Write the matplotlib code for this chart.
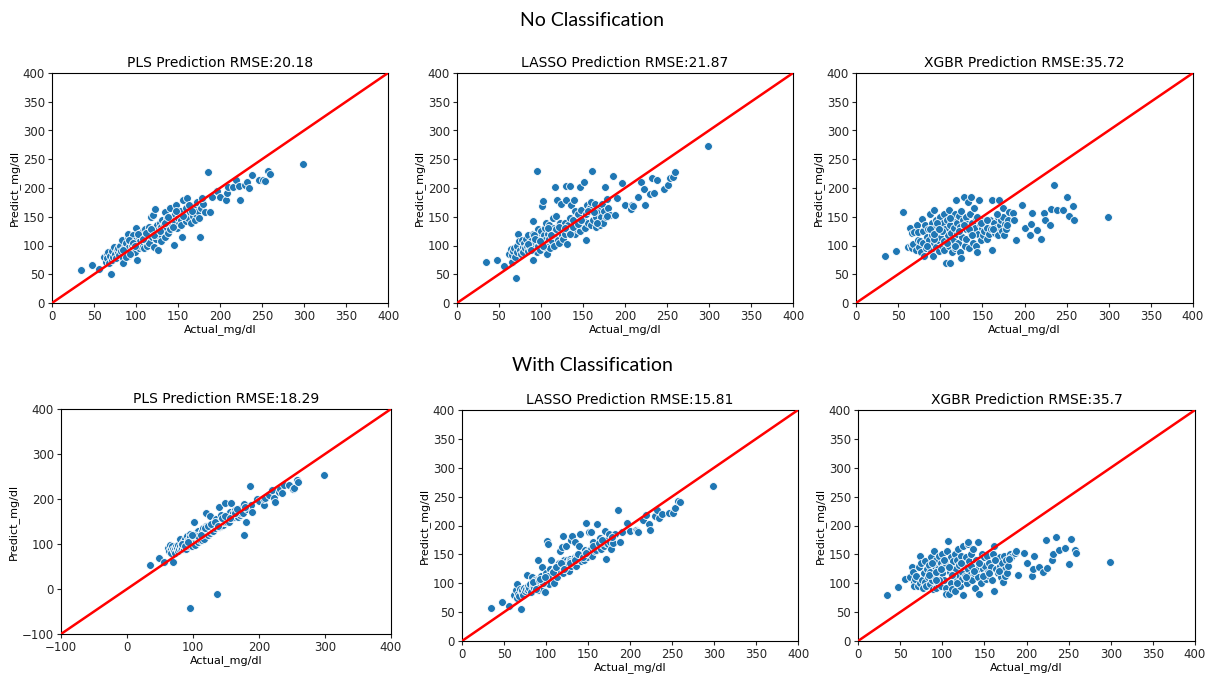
import numpy as np
import matplotlib.pyplot as plt

# actual glucose values of the test set (shared by every model)
actual = [35, 48, 56, 70, 62, 64, 65, 66, 67, 68,
          69, 71, 72, 73, 74, 75, 76, 77, 78, 79,
          80, 81, 82, 83, 84, 85, 86, 87, 88, 89,
          90, 90, 91, 92, 93, 94, 95, 95, 96, 97,
          98, 99, 100, 100, 101, 102, 103, 104, 105, 105,
          106, 107, 108, 109, 110, 110, 111, 112, 113, 114,
          115, 115, 116, 117, 118, 119, 120, 120, 121, 122,
          123, 124, 125, 125, 126, 127, 128, 129, 130, 130,
          131, 132, 133, 134, 135, 136, 137, 138, 139, 140,
          141, 142, 143, 144, 145, 146, 147, 148, 149, 150,
          151, 152, 153, 154, 155, 156, 158, 159, 160, 161,
          162, 164, 165, 166, 168, 169, 170, 171, 172, 173,
          174, 175, 176, 177, 178, 180, 182, 186, 188, 190,
          197, 200, 207, 208, 209, 215, 219, 223, 224, 230,
          232, 235, 238, 246, 251, 253, 257, 259, 299,
          84, 88, 92, 96, 102, 108, 112, 118, 122, 128,
          134, 138, 144, 148, 156, 163, 167, 179, 93, 99]

# no classification
pls_pred = [57, 66, 59, 50, 80, 72, 85, 78, 88, 70,
            82, 75, 90, 80, 97, 85, 78, 92, 88, 95,
            84, 100, 90, 110, 78, 70, 96, 88, 105, 92,
            115, 82, 120, 98, 108, 90, 112, 100, 95, 118,
            105, 88, 130, 110, 75, 100, 115, 95, 122, 108,
            118, 98, 125, 104, 112, 95, 128, 108, 100, 118,
            132, 110, 104, 125, 150, 115, 153, 122, 98, 130,
            163, 112, 135, 118, 92, 128, 140, 120, 108, 132,
            145, 125, 138, 115, 158, 130, 148, 122, 140, 165,
            128, 150, 135, 145, 101, 140, 155, 170, 130, 148,
            138, 160, 145, 135, 115, 180, 150, 142, 165, 183,
            148, 158, 140, 168, 152, 162, 145, 170, 155, 175,
            160, 148, 114, 165, 178, 172, 158, 228, 159, 185,
            194, 185, 179, 192, 201, 201, 214, 203, 179, 206,
            211, 200, 222, 214, 214, 213, 230, 224, 241,
            92, 80, 110, 105, 120, 112, 122, 128, 118, 125,
            140, 150, 132, 160, 152, 170, 160, 182, 86, 100]

lasso_pred = [72, 74, 65, 44, 85, 94, 72, 83, 90, 96,
              80, 88, 100, 120, 107, 92, 85, 110, 98, 88,
              105, 95, 112, 100, 90, 118, 102, 95, 108, 100,
              142, 75, 120, 105, 95, 112, 230, 88, 128, 100,
              115, 92, 125, 105, 168, 177, 98, 118, 110, 130,
              140, 85, 120, 100, 135, 112, 95, 125, 108, 148,
              118, 130, 100, 201, 152, 179, 125, 110, 138, 105,
              140, 173, 118, 132, 112, 125, 140, 120, 203, 179,
              102, 135, 125, 148, 203, 171, 130, 145, 179, 120,
              160, 135, 128, 155, 140, 201, 125, 162, 135, 145,
              210, 130, 155, 110, 171, 140, 165, 135, 175, 230,
              145, 173, 132, 150, 140, 160, 135, 168, 150, 172,
              140, 160, 201, 150, 181, 165, 153, 221, 153, 182,
              209, 171, 163, 171, 168, 184, 211, 198, 171, 190,
              217, 191, 214, 198, 206, 217, 220, 228, 273,
              102, 92, 118, 110, 100, 130, 118, 128, 132, 130,
              120, 132, 138, 145, 160, 158, 140, 152, 112, 108]

xgbr_pred = [81, 91, 159, 100, 97, 130, 100, 122, 95, 103,
             123, 92, 135, 110, 123, 98, 108, 88, 146, 125,
             105, 81, 135, 95, 115, 100, 128, 110, 155, 92,
             140, 118, 81, 162, 105, 130, 145, 98, 120, 110,
             135, 90, 150, 115, 125, 100, 140, 108, 155, 92,
             128, 70, 145, 118, 162, 100, 70, 135, 122, 88,
             148, 110, 130, 95, 155, 179, 120, 140, 105, 152,
             88, 132, 78, 160, 115, 145, 184, 100, 128, 150,
             112, 138, 175, 95, 155, 184, 120, 140, 105, 165,
             130, 148, 100, 88, 120, 179, 138, 110, 130, 142,
             118, 125, 138, 145, 112, 130, 120, 145, 128, 180,
             93, 140, 122, 130, 118, 150, 180, 135, 145, 125,
             165, 150, 118, 138, 128, 145, 159, 156, 145, 110,
             171, 130, 119, 137, 156, 127, 112, 156, 145, 136,
             163, 206, 162, 162, 185, 152, 169, 145, 149,
             100, 128, 112, 140, 125, 105, 148, 100, 125, 135,
             128, 118, 150, 140, 145, 128, 155, 135, 120, 128]

# with classification
pls_pred_c = [54, 70, 61, 61, 92, 85, 98, 88, 80, 95,
              88, 85, 92, 80, 96, 88, 92, 85, 98, 90,
              95, 112, 88, 100, 92, 105, 95, 90, 112, 98,
              102, 90, 118, 100, 95, 108, 122, -42, 100, 110,
              105, 95, 115, 108, 150, 112, 98, 118, 110, 125,
              115, 105, 128, 112, 120, 108, 118, 125, 110, 130,
              118, 135, 122, 112, 128, 140, 170, 125, 132, 120,
              138, 128, 162, 132, 125, 140, 135, 130, 145, 138,
              128, 150, 140, 135, 155, -11, 142, 150, 138, 183,
              145, 140, 165, 150, 142, 155, 148, 192, 150, 160,
              148, 165, 155, 150, 160, 172, 192, 158, 165, 170,
              160, 175, 165, 170, 160, 175, 178, 165, 170, 180,
              175, 168, 185, 121, 190, 150, 178, 230, 186, 172,
              200, 195, 187, 199, 202, 210, 221, 202, 193, 215,
              222, 213, 232, 232, 223, 225, 243, 238, 253,
              100, 95, 108, 115, 120, 118, 120, 135, 140, 145,
              148, 140, 158, 162, 158, 168, 178, 182, 105, 120]

lasso_pred_c = [58, 67, 60, 55, 80, 88, 75, 98, 82, 78,
                90, 85, 88, 80, 92, 86, 90, 115, 88, 95,
                92, 98, 85, 110, 95, 100, 92, 105, 98, 95,
                108, 88, 140, 100, 95, 112, 128, 102, 108, 88,
                100, 85, 118, 105, 173, 168, 110, 98, 125, 112,
                140, 118, 108, 122, 115, 100, 125, 118, 110, 130,
                122, 135, 125, 155, 130, 162, 182, 118, 140, 128,
                132, 165, 125, 140, 135, 122, 142, 138, 175, 130,
                182, 140, 135, 172, 145, 130, 148, 140, 165, 185,
                150, 138, 145, 152, 140, 158, 150, 205, 145, 155,
                188, 150, 188, 160, 148, 172, 155, 162, 158, 203,
                165, 178, 160, 168, 175, 165, 191, 142, 170, 175,
                168, 185, 172, 160, 178, 170, 185, 227, 172, 188,
                204, 190, 192, 190, 189, 210, 219, 202, 193, 217,
                227, 213, 220, 222, 221, 231, 243, 241, 269,
                102, 90, 105, 100, 112, 120, 128, 135, 125, 135,
                140, 150, 145, 152, 165, 170, 175, 180, 108, 110]

xgbr_pred_c = [80, 94, 107, 100, 110, 129, 120, 102, 95, 108,
               113, 95, 128, 100, 148, 135, 105, 92, 118, 138,
               103, 95, 125, 110, 132, 98, 120, 145, 105, 90,
               155, 112, 130, 92, 140, 118, 100, 125, 148, 108,
               135, 95, 150, 118, 128, 105, 140, 92, 81, 132,
               155, 173, 81, 120, 145, 100, 128, 90, 138, 112,
               150, 87, 125, 105, 140, 160, 115, 132, 95, 148,
               120, 108, 80, 165, 130, 112, 145, 100, 168, 125,
               171, 138, 115, 150, 105, 128, 160, 118, 92, 140,
               125, 110, 171, 82, 135, 100, 150, 125, 115, 145,
               130, 108, 148, 120, 112, 135, 128, 105, 150, 165,
               87, 125, 140, 118, 130, 145, 110, 135, 102, 148,
               125, 112, 140, 118, 130, 150, 145, 152, 155, 115,
               152, 135, 112, 125, 148, 128, 119, 175, 126, 141,
               150, 180, 157, 161, 133, 177, 157, 152, 137,
               115, 135, 120, 105, 140, 128, 115, 100, 135, 110,
               130, 122, 135, 112, 118, 140, 122, 142, 105, 125]

titles = ['PLS Prediction RMSE:20.18', 'LASSO Prediction RMSE:21.87', 'XGBR Prediction RMSE:35.72',
          'PLS Prediction RMSE:18.29', 'LASSO Prediction RMSE:15.81', 'XGBR Prediction RMSE:35.7']
preds = [pls_pred, lasso_pred, xgbr_pred, pls_pred_c, lasso_pred_c, xgbr_pred_c]
lows = [0, 0, 0, -100, 0, 0]

# panel boxes in pixels: left, top, right, bottom
boxes = [(52, 73, 388, 303), (457, 73, 793, 303), (856, 73, 1193, 303),
         (61, 409, 391, 634), (462, 410, 798, 641), (858, 410, 1195, 641)]

W, H = 1212, 677
fig = plt.figure(figsize=(W / 100, H / 100), dpi=100)

for title, pred, low, (l, t, r, b) in zip(titles, preds, lows, boxes):
    ax = fig.add_axes([l / W, (H - b) / H, (r - l) / W, (b - t) / H])
    ax.scatter(actual, pred, s=32, color='#1f77b4', edgecolor='white', linewidth=0.6, zorder=2)
    ax.plot([low, 400], [low, 400], color='red', linewidth=1.8, zorder=3)
    ax.set_xlim(low, 400)
    ax.set_ylim(low, 400)
    step = 100 if low < 0 else 50
    ax.set_xticks(np.arange(low, 401, step))
    ax.set_yticks(np.arange(low, 401, step))
    ax.tick_params(labelsize=8.5, length=3, pad=2, colors='#262626')
    ax.set_title(title, fontsize=10, pad=4)
    ax.set_xlabel('Actual_mg/dl', fontsize=8, labelpad=1)
    ax.set_ylabel('Predict_mg/dl', fontsize=8, labelpad=2)

fig.text(592 / W, 1 - 20 / H, 'No Classification', ha='center', va='center', fontsize=14, family='Lato')
fig.text(592 / W, 1 - 366 / H, 'With Classification', ha='center', va='center', fontsize=14, family='Lato')

fig.savefig('out.png', dpi=100)
